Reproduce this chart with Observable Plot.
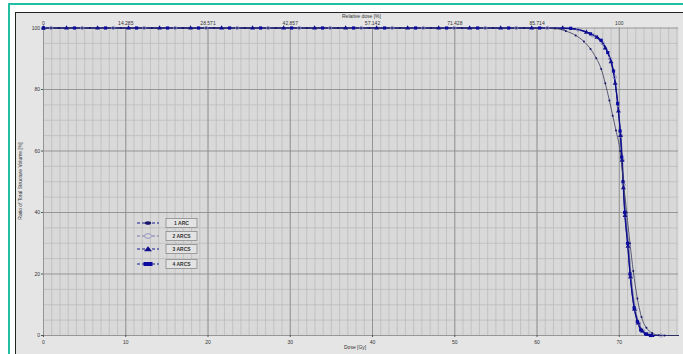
<!DOCTYPE html>
<html>
<head>
<meta charset="utf-8">
<script src="https://cdn.jsdelivr.net/npm/d3@7"></script>
<script src="https://cdn.jsdelivr.net/npm/@observablehq/plot@0.6"></script>
<style>
  html, body { margin: 0; padding: 0; background: #fff; }
  #wrap { position: relative; width: 683px; height: 354px; overflow: hidden; background: #fff; font-family: "Liberation Sans", Arial, sans-serif; }
  #teal { position: absolute; left: 8px; top: 3px; width: 700px; height: 400px; border: 2px solid #22bfa2; box-sizing: border-box; }
  #frame { position: absolute; left: 15px; top: 12px; width: 700px; height: 400px; border: 1.5px solid #222; background: #e5e5e5; box-sizing: border-box; }
  #chart { position: absolute; left: 17px; top: 14px; }
  .ttl { position: absolute; font-size: 5px; color: #333; white-space: nowrap; }
  #legend { position: absolute; left: 0; top: 0; }
</style>
</head>
<body>
<div id="wrap">
  <div id="teal"></div>
  <div id="frame"></div>
  <div id="chart"></div>
  <div class="ttl" id="xt" style="left:344px; top:344px;">Dose [Gy]</div>
  <div class="ttl" id="tt" style="left:342px; top:13px;">Relative dose [%]</div>
  <div class="ttl" id="yt" style="left:20px; top:181px; transform: translate(-50%,-50%) rotate(-90deg);">Ratio of Total Structure Volume [%]</div>
  <svg id="legend" width="683" height="354"></svg>
</div>
<script>
// ---------- data ----------
const seriesNames = ["1 ARC", "2 ARCS", "3 ARCS", "4 ARCS"];

const dose1 = [0, 1.87, 5.64, 9.41, 13.18, 16.95, 20.72, 24.49, 28.26, 32.03, 35.8, 39.57, 43.34, 47.11, 50.88, 54.65, 58.42,
  62.19, 63.5, 64.7, 65.7, 66.5, 67.2, 67.8, 68.3, 68.8, 69.2, 69.6, 70.1, 70.5, 70.9, 71.3, 71.7, 72.2, 72.7, 73.3, 74.0, 74.8, 75.5, 77.2];
const vol1 = [100, 100, 100, 100, 100, 100, 100, 100, 100, 100, 100, 100, 100, 100, 100, 100, 100,
  99.8, 99.0, 97.6, 95.6, 93.2, 90.2, 86.7, 82.0, 76.4, 71.5, 66.7, 60.0, 50.0, 40.0, 30.0, 21.0, 12.0, 6.0, 2.5, 0.8, 0.1, 0, 0];

const dose2 = [0, 0.93, 4.7, 8.47, 12.24, 16.01, 19.78, 23.55, 27.32, 31.09, 34.86, 38.63, 42.4, 46.17, 49.94, 53.71, 57.48, 61.25,
  65.0, 66.8, 68.0, 68.9, 69.45, 69.85, 70.2, 70.4, 70.55, 70.8, 71.15, 71.45, 71.95, 72.4, 72.9, 73.6, 75.1, 77.2];
const vol2 = [100, 100, 100, 100, 100, 100, 100, 100, 100, 100, 100, 100, 100, 100, 100, 100, 100, 100,
  99.5, 97.6, 95.0, 90.0, 84.0, 75.0, 65.0, 57.0, 49.0, 39.0, 29.0, 19.0, 8.5, 4.0, 1.5, 0.4, 0, 0];

const dose3 = [0, 2.8, 6.57, 10.34, 14.11, 17.88, 21.65, 25.42, 29.19, 32.96, 36.73, 40.5, 44.27, 48.04, 51.81, 55.58, 59.35,
  63.12, 66.0, 67.3, 68.3, 69.0, 69.5, 69.9, 70.15, 70.35, 70.5, 70.7, 71.05, 71.35, 71.85, 72.3, 72.8, 73.4, 74.0, 77.2];
const vol3 = [100, 100, 100, 100, 100, 100, 100, 100, 100, 100, 100, 100, 100, 100, 100, 100, 100,
  99.95, 98.6, 97.0, 93.5, 89.0, 82.0, 73.0, 65.0, 57.0, 48.0, 39.0, 29.0, 19.0, 8.5, 4.0, 1.4, 0.3, 0, 0];

const dose4 = [0, 3.77, 7.54, 11.31, 15.08, 18.85, 22.62, 26.39, 30.16, 33.93, 37.7, 41.47, 45.24, 49.01, 52.78, 56.55, 60.32,
  64.09, 66.5, 67.8, 68.6, 69.3, 69.8, 70.1, 70.3, 70.45, 70.65, 71.0, 71.3, 71.8, 72.2, 72.6, 73.2, 73.8, 77.2];
const vol4 = [100, 100, 100, 100, 100, 100, 100, 100, 100, 100, 100, 100, 100, 100, 100, 100, 100,
  99.9, 98.1, 96.0, 92.0, 86.0, 75.5, 66.5, 58.0, 50.0, 40.0, 30.0, 20.0, 9.0, 4.5, 1.8, 0.5, 0, 0];

const xTicks = [0, 10, 20, 30, 40, 50, 60, 70];
const relLabels = ["0", "14.285", "28.571", "42.857", "57.142", "71.428", "85.714", "100"];
const yTicks = [0, 20, 40, 60, 80, 100];
const xMinor = d3.range(0, 78, 1);
const yMinor = [5, 10, 15, 25, 30, 35, 45, 50, 55, 65, 70, 75, 85, 90, 95];

// ---------- build ----------
const table = (ds, vs) => ds.map((d, i) => ({dose: d, vol: vs[i]}));
const s1 = table(dose1, vol1), s2 = table(dose2, vol2), s3 = table(dose3, vol3), s4 = table(dose4, vol4);
const mk = d => d.dose < 77;

const col = {l1: "#3a3a5c", m1: "#15156e", l2: "#6f6fa8", m2: "#8c8cbc", l3: "#1a1a84", m3: "#10108c", l4: "#0c0c8c", m4: "#0b0ba0"};

const chart = Plot.plot({
  width: 663,
  height: 340,
  marginLeft: 26,
  marginTop: 13.5,
  marginBottom: 19,
  marginRight: 2,
  style: {background: "transparent", fontSize: "5px", fontFamily: "'Liberation Sans', Arial, sans-serif", color: "#333", overflow: "visible"},
  x: {domain: [0, 77.2]},
  y: {domain: [0, 100]},
  marks: [
    Plot.frame({fill: "#d9d9d9", stroke: null}),
    Plot.gridX(xMinor, {stroke: "#bcbcbc", strokeOpacity: 1, strokeWidth: 0.8}),
    Plot.gridY(yMinor, {stroke: "#bcbcbc", strokeOpacity: 1, strokeWidth: 0.8}),
    Plot.gridX(xTicks, {stroke: "#8e8e8e", strokeOpacity: 1, strokeWidth: 0.9}),
    Plot.gridY(yTicks, {stroke: "#8e8e8e", strokeOpacity: 1, strokeWidth: 0.9}),
    Plot.axisX({ticks: xTicks, tickSize: 2, tickPadding: 3, label: null, fill: "#333", stroke: "#555"}),
    Plot.axisX({anchor: "top", ticks: xTicks, tickSize: 0, tickPadding: 3, tickFormat: (d, i) => relLabels[xTicks.indexOf(d)], label: null, fill: "#333"}),
    Plot.axisY({ticks: yTicks, tickSize: 2, tickPadding: 1.5, label: null, fill: "#333", stroke: "#555"}),
    Plot.line(s2, {x: "dose", y: "vol", stroke: col.l2, strokeWidth: 1.1, curve: "monotone-x"}),
    Plot.line(s3, {x: "dose", y: "vol", stroke: col.l3, strokeWidth: 1.1, curve: "monotone-x"}),
    Plot.line(s4, {x: "dose", y: "vol", stroke: col.l4, strokeWidth: 1.1, curve: "monotone-x"}),
    Plot.line(s1, {x: "dose", y: "vol", stroke: col.l1, strokeWidth: 0.8, curve: "monotone-x"}),
    Plot.dot(s2, {x: "dose", y: "vol", filter: mk, r: 1.7, stroke: col.m2, strokeWidth: 0.8, fill: "none"}),
    Plot.dot(s3, {x: "dose", y: "vol", filter: mk, r: 1.8, symbol: "triangle", fill: col.m3, stroke: "none"}),
    Plot.dot(s4, {x: "dose", y: "vol", filter: mk, r: 1.8, symbol: "square", fill: col.m4, stroke: "none"}),
    Plot.dot(s1, {x: "dose", y: "vol", filter: mk, r: 1.0, fill: col.m1, stroke: "none"})
  ]
});
document.getElementById("chart").appendChild(chart);

// ---------- legend ----------
const lg = d3.select("#legend");
const rowsY = [223, 236, 249, 264];
const mcols = [col.m1, col.m2, col.m3, col.m4];
seriesNames.forEach((name, i) => {
  const y = rowsY[i];
  lg.append("line").attr("x1", 137).attr("x2", 159).attr("y1", y).attr("y2", y)
    .attr("stroke", i === 1 ? "#7a7ab0" : "#1a1a8a").attr("stroke-width", 1).attr("stroke-dasharray", "3,2");
  if (i === 0) lg.append("ellipse").attr("cx", 148).attr("cy", y).attr("rx", 3.2).attr("ry", 1.8).attr("fill", mcols[0]);
  if (i === 1) {
    lg.append("ellipse").attr("cx", 148).attr("cy", y).attr("rx", 3.5).attr("ry", 2.3).attr("fill", "#d9d9d9").attr("stroke", mcols[1]).attr("stroke-width", 0.9);
  }
  if (i === 2) lg.append("path").attr("d", `M${144},${y + 2.2}L${148},${y - 2.8}L${152},${y + 2.2}Z`).attr("fill", mcols[2]);
  if (i === 3) lg.append("rect").attr("x", 143.5).attr("y", y - 2).attr("width", 9).attr("height", 4).attr("fill", mcols[3]);
  lg.append("rect").attr("x", 166).attr("y", y - 4.5).attr("width", 31).attr("height", 9)
    .attr("fill", "#e3e3e3").attr("stroke", "#8a8a8a").attr("stroke-width", 0.8);
  lg.append("text").attr("x", 181.5).attr("y", y + 1.8).attr("text-anchor", "middle")
    .attr("font-size", "5px").attr("font-weight", "bold").attr("fill", "#333")
    .attr("font-family", "'Liberation Sans', Arial, sans-serif").text(name);
});
</script>
</body>
</html>
